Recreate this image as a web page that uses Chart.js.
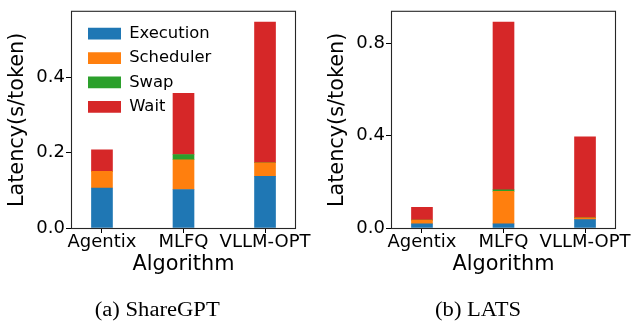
<!DOCTYPE html>
<html>
<head>
<meta charset="utf-8">
<title>Latency breakdown</title>
<script src="https://cdn.jsdelivr.net/npm/chart.js@4.4.1/dist/chart.umd.min.js"></script>
<style>
  html, body { margin: 0; padding: 0; background: #fff; }
  #fig { position: relative; width: 636px; height: 322px; overflow: hidden; }
  figure { position: absolute; top: 0; margin: 0; width: 318px; height: 322px; }
  figure canvas { position: absolute; left: 0; top: 0; }
  figcaption {
    position: absolute; width: 318px; top: 299px; text-align: center;
    font-family: "Liberation Serif", "Times New Roman", serif;
    font-size: 20px; line-height: 20px; color: #000;
  }
  figcaption span { display: inline-block; transform: scaleX(1.13); }
</style>
</head>
<body>
<div id="fig">
  <figure style="left:0">
    <canvas id="chartA" width="318" height="322"></canvas>
    <figcaption style="left:-1.5px"><span>(a) ShareGPT</span></figcaption>
  </figure>
  <figure style="left:318px">
    <canvas id="chartB" width="318" height="322"></canvas>
    <figcaption style="left:1px"><span>(b) LATS</span></figcaption>
  </figure>
</div>
<script>
// Categories and series
const algorithms   = ['Agentix', 'MLFQ', 'VLLM-OPT'];
const seriesNames  = ['Execution', 'Scheduler', 'Swap', 'Wait'];
const seriesColors = ['#1f77b4', '#ff7f0e', '#2ca02c', '#d62728'];

// ShareGPT latency breakdown (s/token)
const shareGptExecution = [0.106, 0.102, 0.137];
const shareGptScheduler = [0.044, 0.079, 0.036];
const shareGptSwap      = [0.000, 0.014, 0.000];
const shareGptWait      = [0.057, 0.162, 0.373];
const shareGptTicks     = [0, 0.2, 0.4];

// LATS latency breakdown (s/token)
const latsExecution = [0.018, 0.018, 0.036];
const latsScheduler = [0.016, 0.141, 0.008];
const latsSwap      = [0.000, 0.006, 0.000];
const latsWait      = [0.056, 0.728, 0.351];
const latsTicks     = [0, 0.4, 0.8];

const FONT = 'DejaVu Sans';
Chart.defaults.font.family = FONT;
Chart.defaults.color = '#000';

// Box around the plotting area (all four spines)
const axesFrame = {
  id: 'axesFrame',
  afterDatasetsDraw(chart) {
    const { ctx, chartArea: a } = chart;
    ctx.save();
    ctx.strokeStyle = '#262626';
    ctx.lineWidth = 1.1;
    ctx.strokeRect(a.left + 0.5, a.top - 0.5, a.right - a.left - 1, a.bottom - a.top + 1);
    ctx.restore();
  }
};

// Put the legend at a fixed offset inside the plotting area
const legendPlacement = {
  id: 'legendPlacement',
  beforeDraw(chart, args, opts) {
    const lg = chart.legend;
    if (!lg || !lg.options.display) return;
    lg.left = chart.chartArea.left + opts.dx;
    lg.top = chart.chartArea.top + opts.dy;
    lg.right = lg.left + 220;
    lg.bottom = lg.top + 200;
  }
};

function buildDatasets(columns) {
  return columns.map((vals, k) => ({
    label: seriesNames[k],
    data: vals.map((v, i) => ({ x: i, y: v })),
    backgroundColor: seriesColors[k],
    borderWidth: 0,
    barThickness: 21
  }));
}

function stackedMax(columns) {
  return Math.max(...algorithms.map((_, i) => columns.reduce((s, c) => s + c[i], 0)));
}

function makeChart(id, columns, tickValues, opt) {
  const yMax = stackedMax(columns) * 1.05;
  return new Chart(document.getElementById(id), {
    type: 'bar',
    data: { datasets: buildDatasets(columns) },
    plugins: [axesFrame, legendPlacement],
    options: {
      responsive: false,
      animation: false,
      devicePixelRatio: 1,
      layout: { padding: { top: 10, left: 0, right: opt.padRight, bottom: 40 } },
      plugins: {
        tooltip: { enabled: false },
        legend: {
          display: opt.legend,
          position: 'chartArea',
          align: 'start',
          labels: {
            boxWidth: 33, boxHeight: 11.7, padding: 8,
            color: '#000', font: { family: FONT, size: 16.4 }
          }
        },
        legendPlacement: { dx: 9, dy: 5.65 }
      },
      scales: {
        x: {
          type: 'linear', stacked: true, offset: false,
          min: -0.38, max: 2.38,
          afterBuildTicks: s => { s.ticks = algorithms.map((_, i) => ({ value: i })); },
          afterFit: s => { s.height = 54; s.paddingLeft = 0; s.paddingRight = 0; },
          ticks: {
            autoSkip: false, maxRotation: 0, padding: 0, color: '#000',
            font: { family: FONT, size: 18, lineHeight: 1 },
            callback: v => algorithms[v]
          },
          grid: { offset: false, drawOnChartArea: false, tickLength: 5, tickColor: '#000', lineWidth: 1 },
          border: { display: false },
          title: {
            display: true, text: 'Algorithm', color: '#000',
            font: { family: FONT, size: 20.8 }, padding: { top: 0, bottom: 5 }
          }
        },
        y: {
          stacked: true, min: 0, max: yMax,
          afterBuildTicks: s => { s.ticks = tickValues.map(v => ({ value: v })); },
          afterFit: s => { s.width = opt.axisWidth; },
          ticks: {
            padding: 1, color: '#000',
            font: { family: FONT, size: 18 },
            callback: v => Number(v).toFixed(1)
          },
          grid: { drawOnChartArea: false, tickLength: 5, tickColor: '#000', lineWidth: 1 },
          border: { display: false },
          title: {
            display: true, text: 'Latency(s/token)', color: '#000',
            font: { family: FONT, size: 20.8 }, padding: { top: opt.titlePad, bottom: 0 }
          }
        }
      }
    }
  });
}

makeChart('chartA',
  [shareGptExecution, shareGptScheduler, shareGptSwap, shareGptWait],
  shareGptTicks,
  { legend: true, axisWidth: 71, padRight: 22, titlePad: 5 });

makeChart('chartB',
  [latsExecution, latsScheduler, latsSwap, latsWait],
  latsTicks,
  { legend: false, axisWidth: 73, padRight: 20, titlePad: 7 });
</script>
</body>
</html>
